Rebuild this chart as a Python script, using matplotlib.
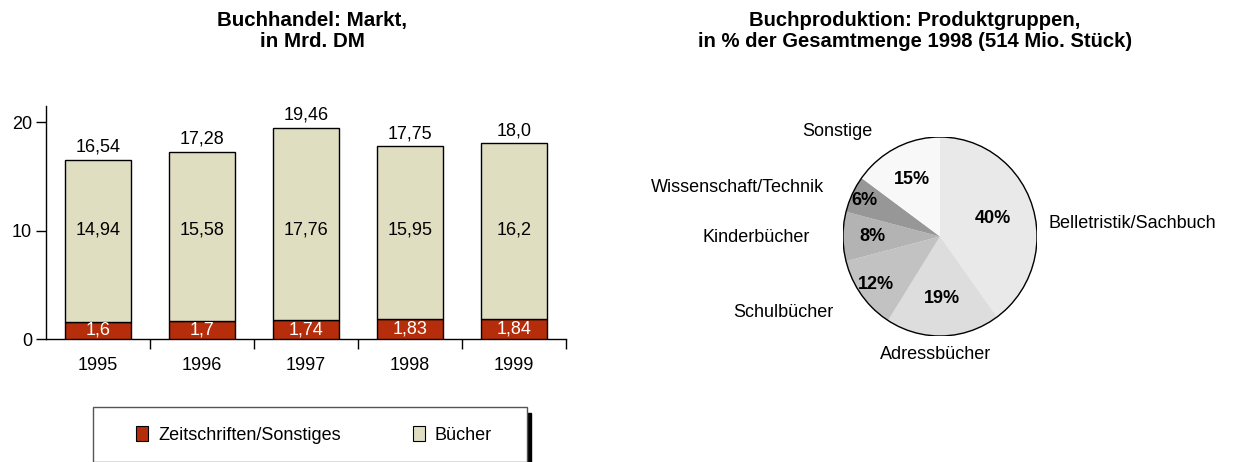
import numpy as np
import matplotlib.pyplot as plt
from matplotlib.patches import Circle, Rectangle, Patch

plt.rcParams['font.family'] = ['Liberation Sans', 'DejaVu Sans']

# bar chart data
years = ["1995", "1996", "1997", "1998", "1999"]
zeitschriften = [1.6, 1.7, 1.74, 1.83, 1.84]
buecher = [14.94, 15.58, 17.76, 15.95, 16.2]
totals = [16.54, 17.28, 19.46, 17.75, 18.0]

# pie chart data
groups = ["Belletristik/Sachbuch", "Adressbücher", "Schulbücher",
          "Kinderbücher", "Wissenschaft/Technik", "Sonstige"]
shares = [40, 19, 12, 8, 6, 15]

RED = "#b52d0a"
BEIGE = "#e0dec1"
pie_colors = ["#e9e9e9", "#dddddd", "#c2c2c2", "#b3b3b3", "#979797", "#f8f8f8"]

W, H = 1233, 462
fig = plt.figure(figsize=(W / 100, H / 100), dpi=100)


def px_axes(x0, y0, x1, y1):
    # pixel box (top-left origin) -> figure fraction
    return fig.add_axes([x0 / W, 1 - y1 / H, (x1 - x0) / W, (y1 - y0) / H])


def de(v):
    return str(v).replace(".", ",")


# ---------- bar chart ----------
ax = px_axes(46, 106, 566, 339)
x = np.arange(len(years))
ax.bar(x, zeitschriften, width=0.63, color=RED, edgecolor="black", linewidth=1, zorder=3)
ax.bar(x, buecher, width=0.63, bottom=zeitschriften, color=BEIGE,
       edgecolor="black", linewidth=1, zorder=3)

for i in range(len(years)):
    ax.text(x[i], zeitschriften[i] / 2, de(zeitschriften[i]), ha="center", va="center",
            color="white", fontsize=13, zorder=4)
    ax.text(x[i], 10.1, de(buecher[i]), ha="center", va="center", fontsize=13, zorder=4)
    ax.annotate(de(totals[i]), (x[i], zeitschriften[i] + buecher[i]),
                xytext=(0, 3), textcoords="offset points",
                ha="center", va="bottom", fontsize=13)

ax.set_xlim(-0.5, len(years) - 0.5)
ax.set_ylim(0, 21.5)
ax.set_yticks([0, 10, 20])
ax.set_xticks(x)
ax.set_xticklabels(years)
ax.set_xticks(np.arange(len(years)) + 0.5, minor=True)
ax.tick_params(axis="x", which="major", length=0, pad=13, labelsize=13)
ax.tick_params(axis="x", which="minor", length=7, width=1, color="black")
ax.tick_params(axis="y", length=7, width=1, pad=3, labelsize=13)
for s in ["top", "right"]:
    ax.spines[s].set_visible(False)
for s in ["left", "bottom"]:
    ax.spines[s].set_linewidth(1)

fig.text(312 / W, 1 - 31 / H, "Buchhandel: Markt,\nin Mrd. DM", ha="center", va="center",
         fontsize=14.8, fontweight="bold", linespacing=1.15)

# legend box with shadow
fig.patches.append(Rectangle((527 / W, 0), 4 / W, (462 - 413) / H,
                             transform=fig.transFigure, color="black", zorder=0))
fig.patches.append(Rectangle((93 / W, 0), (527 - 93) / W, (462 - 407) / H,
                             transform=fig.transFigure, facecolor="white",
                             edgecolor="#555555", linewidth=1, zorder=1))
handles = [Patch(facecolor=RED, edgecolor="black", linewidth=0.8),
           Patch(facecolor=BEIGE, edgecolor="black", linewidth=0.8)]
fig.legend(handles, ["Zeitschriften/Sonstiges", "Bücher"], ncol=2, frameon=False,
           loc="center", bbox_to_anchor=(314 / W, 1 - 435 / H), fontsize=13,
           handlelength=0.67, handleheight=0.94, handletextpad=0.55, columnspacing=4.0)

# ---------- pie chart ----------
ax2 = px_axes(843, 137, 1037, 336)
wedges, _ = ax2.pie(shares, colors=pie_colors, startangle=90, counterclock=False,
                    wedgeprops=dict(linewidth=0))
ax2.set_aspect("auto")
ax2.set_xlim(-1, 1)
ax2.set_ylim(-1, 1)
ax2.add_patch(Circle((0, 0), 1, fill=False, edgecolor="black", linewidth=1))

pct_r = [0.57, 0.62, 0.82, 0.70, 0.86, 0.64]
for w, v, r in zip(wedges, shares, pct_r):
    a = np.deg2rad((w.theta1 + w.theta2) / 2)
    ax2.text(r * np.cos(a), r * np.sin(a), f"{v}%", ha="center", va="center",
             fontsize=13, fontweight="bold")

label_pos = [(1.12, 0.126, "left"), (-0.05, -1.19, "center"), (-1.10, -0.76, "right"),
             (-1.34, -0.015, "right"), (-1.19, 0.49, "right"), (-1.06, 1.06, "center")]
for name, (lx, ly, ha) in zip(groups, label_pos):
    ax2.text(lx, ly, name, ha=ha, va="center", fontsize=13)

fig.text(915 / W, 1 - 31 / H, "Buchproduktion: Produktgruppen,\nin % der Gesamtmenge 1998 (514 Mio. Stück)",
         ha="center", va="center", fontsize=14.6, fontweight="bold", linespacing=1.15)

fig.savefig("out.png", dpi=100)
